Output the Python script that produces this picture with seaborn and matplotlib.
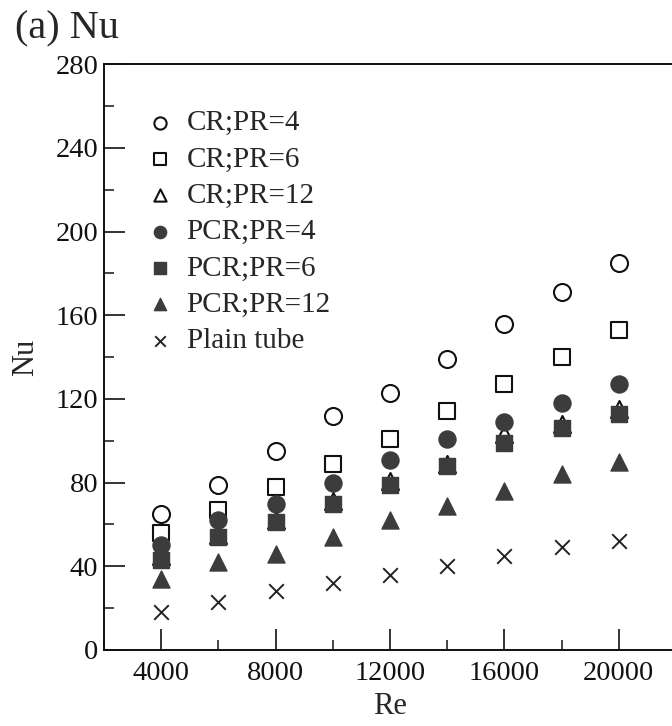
import matplotlib
matplotlib.use("Agg")
import matplotlib.pyplot as plt
from matplotlib.ticker import MultipleLocator
import seaborn as sns
import pandas as pd

# Reynolds numbers tested
re_values = [4000, 6000, 8000, 10000, 12000, 14000, 16000, 18000, 20000]

# Nusselt numbers for each insert configuration
nu_cr_pr4 = [65, 79, 95, 112, 123, 139, 156, 171, 185]
nu_cr_pr6 = [56, 67, 78, 89, 101, 114, 127, 140, 153]
nu_cr_pr12 = [45, 55, 62, 71, 81, 89, 103, 108, 115]
nu_pcr_pr4 = [50, 62, 70, 80, 91, 101, 109, 118, 127]
nu_pcr_pr6 = [43, 54, 61, 70, 79, 88, 99, 106, 113]
nu_pcr_pr12 = [34, 42, 46, 54, 62, 69, 76, 84, 90]
nu_plain = [18, 23, 28, 32, 36, 40, 45, 49, 52]

series_names = ["CR;PR=4", "CR;PR=6", "CR;PR=12",
                "PCR;PR=4", "PCR;PR=6", "PCR;PR=12", "Plain tube"]
series_values = [nu_cr_pr4, nu_cr_pr6, nu_cr_pr12,
                 nu_pcr_pr4, nu_pcr_pr6, nu_pcr_pr12, nu_plain]

y_ticks = [0, 40, 80, 120, 160, 200, 240, 280]
x_ticks = [4000, 8000, 12000, 16000, 20000]

df = pd.concat(
    [pd.DataFrame({"Re": re_values, "Nu": v, "case": n})
     for n, v in zip(series_names, series_values)],
    ignore_index=True,
)

sns.set_style("ticks")
plt.rcParams["font.family"] = ["Liberation Serif", "DejaVu Serif"]

fig = plt.figure(figsize=(6.72, 7.26), dpi=100)
ax = fig.add_axes([0.1548, 0.1047, 0.851, 0.807])

dark = "#3c3c3c"
edge = "#111111"
styles = {
    "CR;PR=4": dict(marker="o", facecolor="white", edgecolor=edge, s=150, linewidth=1.5),
    "CR;PR=6": dict(marker="s", facecolor="white", edgecolor=edge, s=135, linewidth=1.5),
    "CR;PR=12": dict(marker="^", facecolor="white", edgecolor=edge, s=150, linewidth=1.5),
    "PCR;PR=4": dict(marker="o", facecolor=dark, edgecolor=dark, s=150, linewidth=1.0),
    "PCR;PR=6": dict(marker="s", facecolor=dark, edgecolor=dark, s=135, linewidth=1.0),
    "PCR;PR=12": dict(marker="^", facecolor=dark, edgecolor=dark, s=150, linewidth=1.0),
    "Plain tube": dict(marker="x", color="#222222", s=110, linewidth=1.4),
}

for name in series_names:
    sub = df[df["case"] == name]
    st = styles[name]
    sns.scatterplot(data=sub, x="Re", y="Nu", ax=ax, label=name, zorder=3, **st)

ax.set_xlim(2000, 22000)
ax.set_ylim(0, 280)
ax.set_xticks(x_ticks)
ax.set_yticks(y_ticks)
ax.xaxis.set_minor_locator(MultipleLocator(2000))
ax.yaxis.set_minor_locator(MultipleLocator(20))
ax.tick_params(axis="both", which="major", direction="in", length=15, width=1.2,
               labelsize=20.5, colors="#111111")
ax.tick_params(axis="both", which="minor", direction="in", length=7, width=1.2)
ax.tick_params(axis="x", which="major", pad=8)
ax.tick_params(axis="y", which="major", pad=4)
for side in ["left", "bottom", "top", "right"]:
    ax.spines[side].set_linewidth(1.4)
    ax.spines[side].set_color("#111111")

ax.set_xlabel("Re", fontsize=22, labelpad=4)
ax.set_ylabel("Nu", fontsize=22, labelpad=11)

leg = ax.legend(loc="upper left", bbox_to_anchor=(0.047, 0.942), frameon=False,
                fontsize=21, markerscale=0.72, handletextpad=0.31,
                labelspacing=0.34, borderaxespad=0.0, handlelength=1.2)

fig.text(0.022, 0.985, "(a) Nu", fontsize=29, ha="left", va="top")

fig.savefig("out.png", dpi=100, facecolor="white")
